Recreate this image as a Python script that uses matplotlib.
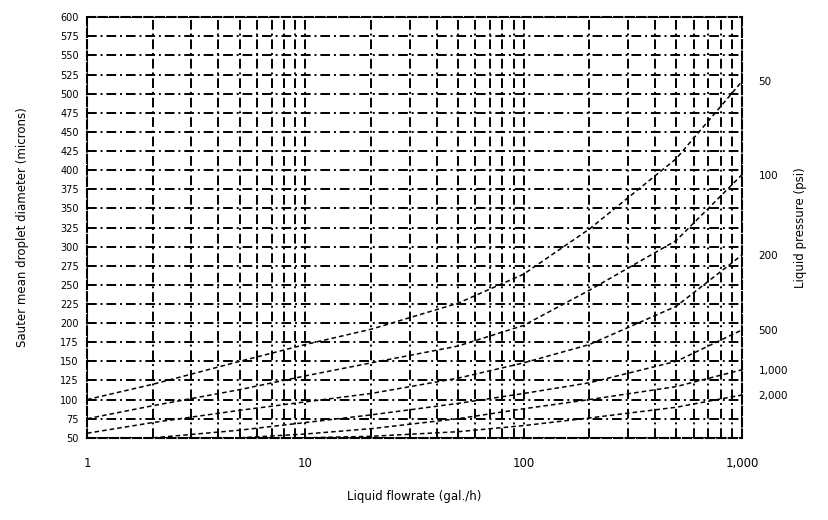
import matplotlib
matplotlib.use("Agg")
import matplotlib.pyplot as plt
import numpy as np

plt.rcParams['font.family'] = ['DejaVu Sans']

# Data
flow_ticks = [1, 10, 100, 1000]
flow_tick_labels = ["1", "10", "100", "1,000"]
diam_ticks = list(range(50, 601, 25))

pressure_labels = ["50", "100", "200", "500", "1,000", "2,000"]

flow_50 = [1, 2, 5, 10, 20, 50, 100, 200, 500, 1000]
diam_50 = [100, 120, 150, 172, 192, 226, 264, 323, 415, 516]

flow_100 = [1, 2, 5, 10, 20, 50, 100, 200, 500, 1000]
diam_100 = [75, 92, 113, 131, 148, 170, 197, 243, 308, 394]

flow_200 = [1, 2, 5, 10, 20, 50, 100, 200, 500, 1000]
diam_200 = [56, 70, 86, 97, 108, 128, 148, 172, 222, 289]

flow_500 = [2, 5, 10, 20, 50, 100, 200, 500, 1000]
diam_500 = [50, 60, 70, 80, 95, 108, 122, 150, 191]

flow_1000 = [5, 10, 20, 50, 100, 200, 500, 1000]
diam_1000 = [50, 55, 62, 75, 88, 100, 117, 139]

flow_2000 = [10, 20, 50, 100, 200, 500, 1000]
diam_2000 = [50, 52, 58, 66, 76, 90, 106]

series = [(flow_50, diam_50), (flow_100, diam_100), (flow_200, diam_200),
          (flow_500, diam_500), (flow_1000, diam_1000), (flow_2000, diam_2000)]

fig = plt.figure(figsize=(8.29, 5.2), dpi=100)
ax = fig.add_axes([0.105, 0.158, 0.79, 0.809])
ax.set_xscale('log')
ax.set_xlim(1, 1000)
ax.set_ylim(50, 600)

# dense dashed grid
grid_style = (0, (5, 2, 1, 2))
ax.set_yticks(diam_ticks)
ax.set_yticklabels([str(v) for v in diam_ticks], fontsize=7)
ax.set_xticks(flow_ticks)
ax.set_xticklabels(flow_tick_labels, fontsize=8.5)
ax.xaxis.set_minor_locator(matplotlib.ticker.LogLocator(base=10, subs=np.arange(2, 10)))
ax.xaxis.set_minor_formatter(matplotlib.ticker.NullFormatter())
ax.grid(True, which='major', axis='both', color='black', linewidth=1.4, linestyle=grid_style)
ax.grid(True, which='minor', axis='x', color='black', linewidth=1.4, linestyle=grid_style)
ax.tick_params(axis='both', which='both', length=0, pad=6)
ax.tick_params(axis='x', pad=14)

for sp in ax.spines.values():
    sp.set_linestyle((0, (4, 1.5)))
    sp.set_linewidth(1.5)

for fx, dy in series:
    ax.plot(fx, dy, color='black', linewidth=1.1, linestyle=(0, (3, 2)))

# right-hand pressure labels at the curve end values
ax2 = ax.twinx()
ax2.set_ylim(ax.get_ylim())
ax2.set_yticks([dy[-1] for _, dy in series])
ax2.set_yticklabels(pressure_labels, fontsize=7.5)
ax2.tick_params(axis='y', length=0, pad=12)
for sp in ax2.spines.values():
    sp.set_visible(False)
ax2.set_ylabel("Liquid pressure (psi)", fontsize=8.5, labelpad=4)

ax.set_ylabel("Sauter mean droplet diameter (microns)", fontsize=8.5, labelpad=22)
ax.set_xlabel("Liquid flowrate (gal./h)", fontsize=8.5, labelpad=14)

fig.savefig("out.png", dpi=100)
